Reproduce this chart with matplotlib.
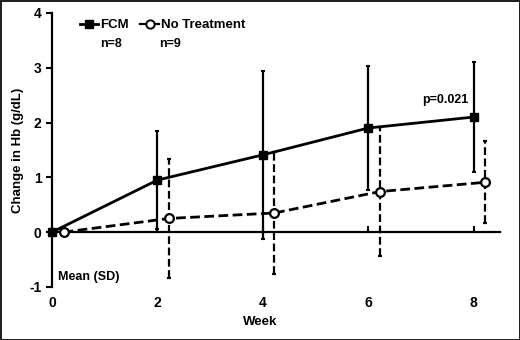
import matplotlib
matplotlib.use("Agg")
import matplotlib.pyplot as plt
from matplotlib.lines import Line2D

weeks = [0, 2, 4, 6, 8]
fcm_mean = [0.0, 0.95, 1.41, 1.90, 2.10]
fcm_sd = [0.0, 0.90, 1.53, 1.13, 1.00]
nt_mean = [0.0, 0.25, 0.35, 0.74, 0.91]
nt_sd = [0.0, 1.09, 1.12, 1.17, 0.75]
nt_offset = 0.22
x_ticks = [0, 2, 4, 6, 8]
y_ticks = [-1, 0, 1, 2, 3, 4]

plt.rcParams['font.family'] = ['Liberation Sans', 'DejaVu Sans']
plt.rcParams['font.weight'] = 'bold'
plt.rcParams['axes.unicode_minus'] = False

fig = plt.figure(figsize=(5.2, 3.4), dpi=100)
fig.patch.set_edgecolor('#222222')
fig.patch.set_linewidth(2)
ax = fig.add_axes([0.1, 0.156, 0.8615, 0.806])

nt_x = [w + nt_offset for w in weeks]
dash = (0, (3.5, 1.6))

eb1 = ax.errorbar(weeks, fcm_mean, yerr=fcm_sd, color='black', lw=2, marker='s',
                  ms=6, mfc='black', mec='black', capsize=1.5, elinewidth=1.6,
                  capthick=1.5, clip_on=False, zorder=3)
eb2 = ax.errorbar(nt_x, nt_mean, yerr=nt_sd, color='black', lw=2, marker='o',
                  ms=6.3, mfc='white', mec='black', mew=1.6, capsize=1.5,
                  elinewidth=1.6, capthick=1.5, clip_on=False, zorder=3,
                  ls=dash)
eb2[2][0].set_linestyle(dash)

ax.set_xlim(0, 8.5)
ax.set_ylim(-1, 4)
ax.spines['top'].set_visible(False)
ax.spines['right'].set_visible(False)
ax.spines['bottom'].set_position(('data', 0))
ax.spines['bottom'].set_linewidth(1.6)
ax.spines['left'].set_linewidth(1.6)
ax.set_xticks(x_ticks)
ax.set_yticks(y_ticks)
ax.tick_params(axis='x', direction='in', length=4, width=1.5, pad=46, labelsize=10)
ax.tick_params(axis='y', direction='out', length=4, width=1.5, labelsize=10)
for lab in ax.get_xticklabels() + ax.get_yticklabels():
    lab.set_fontweight('bold')

ax.set_ylabel('Change in Hb (g/dL)', fontsize=9.5, fontweight='bold', labelpad=4)
fig.text(0.5, 1 - 322 / 340, 'Week', ha='center', va='center', fontsize=9.5, fontweight='bold')

ax.text(0.12, -0.82, 'Mean (SD)', fontsize=9, fontweight='bold', ha='left', va='center')
ax.text(7.03, 2.42, 'p=0.021', fontsize=9, fontweight='bold', ha='left', va='center')

h1 = Line2D([], [], color='black', lw=2, marker='s', ms=5.5, mfc='black')
h2 = Line2D([], [], color='black', lw=1.6, marker='o', ms=6, mfc='white', mec='black', mew=1.4)
leg = ax.legend([h1, h2], ['FCM', 'No Treatment'], ncol=2, frameon=False,
                loc='upper left', bbox_to_anchor=(0.0625, 0.977), handlelength=1.4,
                handletextpad=0.15, columnspacing=0.85, borderpad=0, borderaxespad=0,
                prop={'weight': 'bold', 'size': 9.5})
fig.text(111 / 520, 1 - 44 / 340, 'n=8', ha='center', va='center', fontsize=9, fontweight='bold')
fig.text(170 / 520, 1 - 44 / 340, 'n=9', ha='center', va='center', fontsize=9, fontweight='bold')

fig.savefig('out.png', dpi=100, edgecolor=fig.get_edgecolor(), facecolor='white')
